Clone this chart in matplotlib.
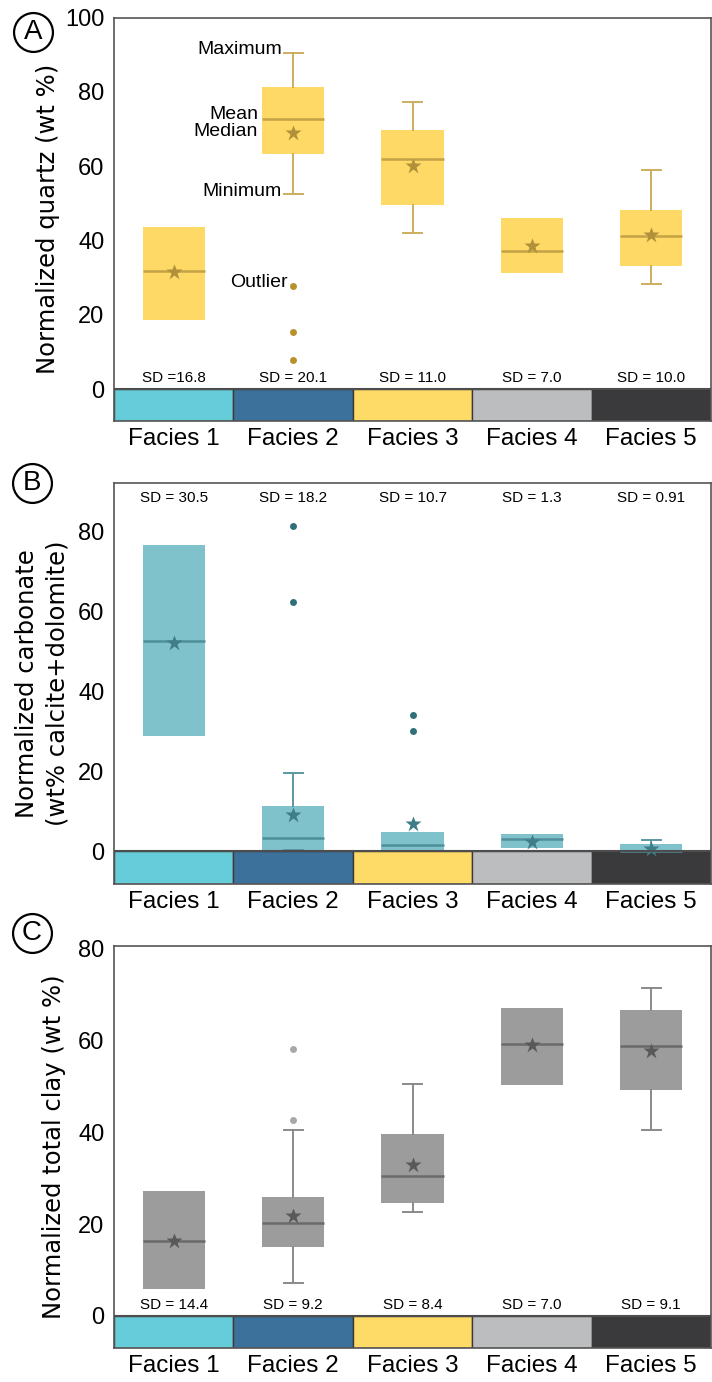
import numpy as np
import matplotlib.pyplot as plt
from matplotlib.lines import Line2D

plt.rcParams['font.family'] = ['Liberation Sans', 'DejaVu Sans']

facies = ['Facies 1', 'Facies 2', 'Facies 3', 'Facies 4', 'Facies 5']
strip_colors = ['#66CCDA', '#3C719B', '#FEDA66', '#BCBDBF', '#3A3A3C']

# quartz box statistics (wt %); None = no whisker drawn
quartz_q1 = [18.7, 63.3, 49.5, 31.3, 33.0]
quartz_med = [31.8, 72.6, 61.9, 37.1, 41.1]
quartz_q3 = [43.6, 81.3, 69.8, 46.1, 48.2]
quartz_lo = [None, 52.6, 42.0, None, 28.2]
quartz_hi = [None, 90.5, 77.3, None, 58.9]
quartz_mean = [31.4, 69.0, 60.0, 38.5, 41.4]
quartz_fliers = [[], [27.7, 15.3, 7.9], [], [], []]
quartz_sd = ['SD =16.8', 'SD = 20.1', 'SD = 11.0', 'SD = 7.0', 'SD = 10.0']

# carbonate (calcite + dolomite)
carb_q1 = [28.8, 0.2, 0.25, 0.7, 0.0]
carb_med = [52.5, 3.2, 1.5, 3.0, 0.1]
carb_q3 = [76.5, 11.3, 4.7, 4.2, 1.7]
carb_lo = [None, 0.2, None, None, None]
carb_hi = [None, 19.5, None, None, 2.7]
carb_mean = [52.1, 9.0, 6.7, 2.3, 0.5]
carb_fliers = [[], [81.3, 62.2], [34.0, 30.0], [], []]
carb_sd = ['SD = 30.5', 'SD = 18.2', 'SD = 10.7', 'SD = 1.3', 'SD = 0.91']

# total clay
clay_q1 = [5.8, 15.0, 24.7, 50.3, 49.2]
clay_med = [16.4, 20.2, 30.4, 59.2, 58.8]
clay_q3 = [27.3, 26.0, 39.7, 67.1, 66.6]
clay_lo = [None, 7.2, 22.6, None, 40.4]
clay_hi = [None, 40.4, 50.6, None, 71.5]
clay_mean = [16.3, 21.7, 32.9, 59.0, 57.8]
clay_fliers = [[], [58.2, 42.7], [], [], []]
clay_sd = ['SD = 14.4', 'SD = 9.2', 'SD = 8.4', 'SD = 7.0', 'SD = 9.1']

W, H = 712, 1382
fig = plt.figure(figsize=(W / 100, H / 100), dpi=100)
pos = np.arange(1, 6)


def panel(top, bottom, q1, med, q3, lo, hi, mean, fliers, sd, colors,
          ylim, yticks, sd_y, ylabel, label_x):
    ax = fig.add_axes([114 / W, (H - bottom) / H, 597 / W, (bottom - top) / H])
    fill, line, whisk, flier, star = colors
    stats = []
    for i in range(5):
        stats.append(dict(med=med[i], q1=q1[i], q3=q3[i],
                          whislo=q1[i] if lo[i] is None else lo[i],
                          whishi=q3[i] if hi[i] is None else hi[i],
                          mean=mean[i], fliers=fliers[i]))
    art = ax.bxp(stats, positions=pos, widths=0.52, capwidths=0.16,
                 patch_artist=True, showmeans=True,
                 boxprops=dict(facecolor=fill, edgecolor='none'),
                 medianprops=dict(color=line, lw=1.8),
                 whiskerprops=dict(color=whisk, lw=1.4),
                 capprops=dict(color=whisk, lw=1.4),
                 flierprops=dict(marker='o', markerfacecolor=flier,
                                 markeredgecolor='none', markersize=5),
                 meanprops=dict(marker='*', markerfacecolor=star,
                                markeredgecolor='none', markersize=12))
    for i in range(5):
        if lo[i] is None:
            art['whiskers'][2 * i].set_visible(False)
            art['caps'][2 * i].set_visible(False)
        if hi[i] is None:
            art['whiskers'][2 * i + 1].set_visible(False)
            art['caps'][2 * i + 1].set_visible(False)

    # facies colour strip below zero
    ax.bar(pos, ylim[0], width=1.0, bottom=0, color=strip_colors,
           edgecolor='#3a3a3a', linewidth=1.0, zorder=1)
    ax.axhline(0, color='#4d4d4d', lw=1.5, zorder=3)

    for x, s in zip(pos, sd):
        ax.text(x, sd_y, s, ha='center', va='center', fontsize=11)

    ax.set_xlim(0.5, 5.5)
    ax.set_ylim(*ylim)
    ax.set_yticks(yticks)
    ax.set_xticks(pos, facies, fontsize=17.5)
    ax.tick_params(axis='x', length=0, pad=5)
    ax.tick_params(axis='y', length=0, pad=7, labelsize=17)
    for sp in ax.spines.values():
        sp.set_color('#555555')
        sp.set_linewidth(1.2)
    ax.set_ylabel(ylabel, family='DejaVu Sans', fontsize=17.5, linespacing=1.3)
    ax.yaxis.set_label_coords((label_x - 114) / 597, 0.5)
    return ax


def circled(letter, x, y):
    fig.add_artist(Line2D([x / W], [1 - y / H], transform=fig.transFigure,
                          marker='o', ms=28, mfc='none', mec='black', mew=1.6))
    fig.text(x / W, 1 - y / H, letter, ha='center', va='center', fontsize=20)


ax_a = panel(17.5, 421, quartz_q1, quartz_med, quartz_q3, quartz_lo, quartz_hi,
             quartz_mean, quartz_fliers, quartz_sd,
             ('#FED966', '#C4A246', '#CDAE5E', '#B8912C', '#B0913A'),
             (-8.6, 100), [0, 20, 40, 60, 80, 100], 3.0,
             'Normalized quartz (wt %)', 60)
ax_b = panel(483, 884, carb_q1, carb_med, carb_q3, carb_lo, carb_hi,
             carb_mean, carb_fliers, carb_sd,
             ('#80C2CC', '#4F8F99', '#5A98A2', '#2F6F7A', '#3F7D88'),
             (-8.25, 92), [0, 20, 40, 60, 80], 88.2,
             'Normalized carbonate\n(wt% calcite+dolomite)', 69)
ax_c = panel(946, 1348, clay_q1, clay_med, clay_q3, clay_lo, clay_hi,
             clay_mean, clay_fliers, clay_sd,
             ('#9C9C9C', '#6A6A6A', '#8A8A8A', '#A8A8A8', '#595959'),
             (-7.0, 80.6), [0, 20, 40, 60, 80], 2.3,
             'Normalized total clay (wt %)', 66)

# key to the box elements, placed on the Facies 2 quartz box
ann = dict(ha='right', va='center', fontsize=14)
ax_a.text(1.905, quartz_hi[1] + 0.8, 'Maximum', **ann)
ax_a.text(1.706, quartz_med[1] + 1.3, 'Mean', **ann)
ax_a.text(1.706, quartz_mean[1] + 0.3, 'Median', **ann)
ax_a.text(1.905, quartz_lo[1] + 0.6, 'Minimum', **ann)
ax_a.text(1.957, quartz_fliers[1][0] + 0.9, 'Outlier', **ann)

circled('A', 33, 32)
circled('B', 32, 483)
circled('C', 32, 933)

fig.savefig('out.png', dpi=100)
